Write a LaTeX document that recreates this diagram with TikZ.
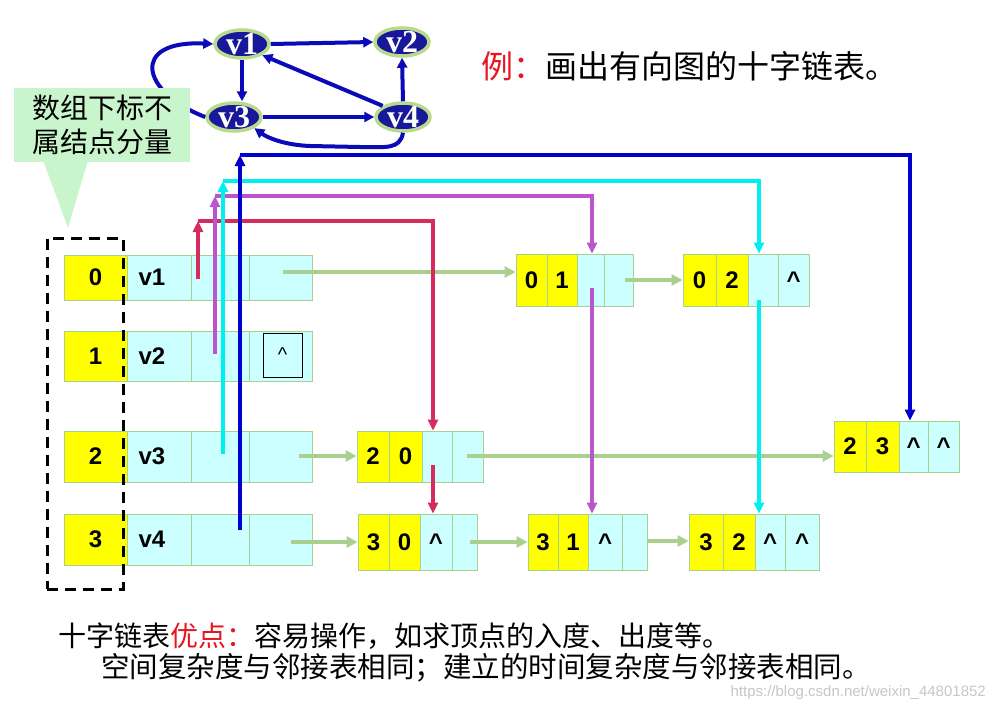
\documentclass[tikz,border=0pt]{standalone}
\usepackage{fontspec}
\setmainfont{Liberation Sans}
\newfontfamily\cjk{Noto Sans CJK SC}
\newfontfamily\serifb{Liberation Serif}
\usetikzlibrary{arrows.meta,shapes.geometric,calc}
\definecolor{cellyel}{HTML}{FFFF00}
\definecolor{cellcyan}{HTML}{CCFFFF}
\definecolor{cellline}{HTML}{A9D18E}
\definecolor{garrowc}{HTML}{A9D08E}
\definecolor{redc}{HTML}{D42C5C}
\definecolor{magc}{HTML}{BB55CC}
\definecolor{cyanc}{HTML}{00F0F0}
\definecolor{bluec}{HTML}{0000CC}
\definecolor{gedgec}{HTML}{0A0AB8}
\definecolor{gfill}{HTML}{18189A}
\definecolor{gring}{HTML}{B9D98C}
\definecolor{callc}{HTML}{C8F5CB}
\definecolor{titlered}{HTML}{E8141E}
\newcommand\mkcell[7]{\node[cellst,fill=#6,minimum width={(#3)-(#2)},minimum height={(#5)-(#4)}] (#1) at ({((#2)+(#3))/2},{((#4)+(#5))/2}) {#7};}
\newcommand\nil{\textasciicircum}
\newcommand\vl[1]{\hspace*{-14pt}#1}
\begin{document}
\begin{tikzpicture}[x=1pt,y=-1pt,
  cellst/.style={draw=cellline, line width=0.8pt, inner sep=0pt, font=\fontsize{24}{24}\selectfont\bfseries},
  garrow/.style={draw=garrowc, line width=4pt, -{Triangle[length=11pt,width=11pt]}, color=garrowc},
  conn/.style={line width=4pt, -{Triangle[length=11pt,width=10pt]}},
  gnode/.style={ellipse, fill=gfill, draw=gring, line width=3.5pt, minimum width=54pt, minimum height=28pt, inner sep=0pt},
  glabel/.style={text=white, inner sep=0pt, font=\serifb\bfseries\fontsize{32}{32}\selectfont},
  gedge/.style={draw=gedgec, color=gedgec, line width=4pt, -{Triangle[length=10pt,width=10pt]}},
]
\useasboundingbox (0,0) rectangle (995,712);
\fill[white] (0,0) rectangle (995,712);

% ---------- graph ----------
\node[gnode] (v1) at (242,44) {};
\node[gnode] (v2) at (402,42) {};
\node[gnode] (v3) at (234,117) {};
\node[gnode] (v4) at (403,117) {};
\node[glabel] (v1t) at (v1) {v1};
\node[glabel] (v2t) at (v2) {v2};
\node[glabel] (v3t) at (v3) {v3};
\node[glabel] (v4t) at (v4) {v4};
\draw[gedge] (v1.east) -- (v2.west);
\draw[gedge] (v1.south) -- (v1.south |- v3.north);
\draw[gedge] (v3.east) -- (v4.west);
\draw[gedge] (v4.north) -- (v2.south);
\draw[gedge] (v4.north west) -- (v1.south east);
\draw[gedge] (v3.west) .. controls (140,92) and (130,40) .. (v1.west);
\draw[gedge] (v4.south) .. controls (400,150) and (385,147) .. (360,147) -- (310,146) .. controls (285,145) and (268,138) .. (v3.south east);

% ---------- callout ----------
\fill[callc] (43,160) -- (88,160) -- (68,228) -- cycle;
\node[fill=callc, minimum width=176pt, minimum height=74pt, inner sep=0pt, align=center,
      font=\cjk\fontsize{28}{34}\selectfont] (callout) at (102,125) {数组下标不\\属结点分量};

% ---------- title ----------
\node[anchor=west, inner sep=0pt, font=\cjk\fontsize{32}{32}\selectfont] (title) at (481,66)
  {\textcolor{titlered}{例：}画出有向图的十字链表。};

% ---------- header rows ----------
\mkcell{i0}{64}{127}{255}{300}{cellyel}{0}
\mkcell{v1a}{127}{191}{255}{300}{cellcyan}{\vl{v1}}
\mkcell{v1b}{191}{249}{255}{300}{cellcyan}{}
\mkcell{v1c}{249}{312}{255}{300}{cellcyan}{}
\mkcell{i1}{64}{127}{331}{381}{cellyel}{1}
\mkcell{v2a}{127}{191}{331}{381}{cellcyan}{\vl{v2}}
\mkcell{v2b}{191}{249}{331}{381}{cellcyan}{}
\mkcell{v2c}{249}{312}{331}{381}{cellcyan}{}
\mkcell{i2}{64}{127}{431}{482}{cellyel}{2}
\mkcell{v3a}{127}{191}{431}{482}{cellcyan}{\vl{v3}}
\mkcell{v3b}{191}{249}{431}{482}{cellcyan}{}
\mkcell{v3c}{249}{312}{431}{482}{cellcyan}{}
\mkcell{i3}{64}{127}{514}{565}{cellyel}{3}
\mkcell{v4a}{127}{191}{514}{565}{cellcyan}{\vl{v4}}
\mkcell{v4b}{191}{249}{514}{565}{cellcyan}{}
\mkcell{v4c}{249}{312}{514}{565}{cellcyan}{}
\node[draw=black, line width=0.8pt, fill=cellcyan, minimum width=39pt, minimum height=44pt, inner sep=0pt,
      font=\fontsize{20}{20}\selectfont] (v2nil) at (282.5,355) {\nil};

% ---------- arc nodes ----------
\mkcell{n01a}{516}{547}{254}{306}{cellyel}{0}
\mkcell{n01b}{547}{577}{254}{306}{cellyel}{1}
\mkcell{n01c}{577}{604}{254}{306}{cellcyan}{}
\mkcell{n01d}{604}{633}{254}{306}{cellcyan}{}
\mkcell{n02a}{683}{716}{254}{306}{cellyel}{0}
\mkcell{n02b}{716}{748}{254}{306}{cellyel}{2}
\mkcell{n02c}{748}{778}{254}{306}{cellcyan}{}
\mkcell{n02d}{778}{809}{254}{306}{cellcyan}{\nil}
\mkcell{n20a}{357}{389}{431}{482}{cellyel}{2}
\mkcell{n20b}{389}{422}{431}{482}{cellyel}{0}
\mkcell{n20c}{422}{452}{431}{482}{cellcyan}{}
\mkcell{n20d}{452}{483}{431}{482}{cellcyan}{}
\mkcell{n23a}{834}{866}{421}{472}{cellyel}{2}
\mkcell{n23b}{866}{899}{421}{472}{cellyel}{3}
\mkcell{n23c}{899}{928}{421}{472}{cellcyan}{\nil}
\mkcell{n23d}{928}{959}{421}{472}{cellcyan}{\nil}
\mkcell{n30a}{358}{389}{514}{570}{cellyel}{3}
\mkcell{n30b}{389}{420}{514}{570}{cellyel}{0}
\mkcell{n30c}{420}{452}{514}{570}{cellcyan}{\nil}
\mkcell{n30d}{452}{477}{514}{570}{cellcyan}{}
\mkcell{n31a}{528}{558}{514}{570}{cellyel}{3}
\mkcell{n31b}{558}{588}{514}{570}{cellyel}{1}
\mkcell{n31c}{588}{622}{514}{570}{cellcyan}{\nil}
\mkcell{n31d}{622}{647}{514}{570}{cellcyan}{}
\mkcell{n32a}{689}{723}{514}{570}{cellyel}{3}
\mkcell{n32b}{723}{755}{514}{570}{cellyel}{2}
\mkcell{n32c}{755}{785}{514}{570}{cellcyan}{\nil}
\mkcell{n32d}{785}{819}{514}{570}{cellcyan}{\nil}

% ---------- green (row) links ----------
\coordinate (g1) at (283,272); \draw[garrow] (g1) -- (g1 -| n01a.west);
\coordinate (g2) at (625,280); \draw[garrow] (g2) -- (g2 -| n02a.west);
\coordinate (g3) at (299,456); \draw[garrow] (g3) -- (g3 -| n20a.west);
\coordinate (g4) at (467,456); \draw[garrow] (g4) -- (g4 -| n23a.west);
\coordinate (g5) at (291,542); \draw[garrow] (g5) -- (g5 -| n30a.west);
\coordinate (g6) at (470,542); \draw[garrow] (g6) -- (g6 -| n31a.west);
\coordinate (g7) at (648,541); \draw[garrow] (g7) -- (g7 -| n32a.west);

% ---------- column links ----------
\coordinate (rs) at (198,279); \coordinate (rt) at (198,221); \coordinate (rr) at (433,221);
\draw[conn, color=redc] (rs) -- (rt);
\draw[conn, color=redc] (rt) -- (rr) -- (rr |- n20c.north);
\coordinate (rs2) at (433,465); \draw[conn, color=redc] (rs2) -- (rs2 |- n30c.north);

\coordinate (ms) at (215,354); \coordinate (mt) at (215,196); \coordinate (mr) at (592,196);
\draw[conn, color=magc] (ms) -- (mt);
\draw[conn, color=magc] (mt) -- (mr) -- (mr |- n01c.north);
\coordinate (ms2) at (592,288); \draw[conn, color=magc] (ms2) -- (ms2 |- n31c.north);

\coordinate (cs) at (223,454); \coordinate (ct) at (223,181); \coordinate (cr) at (759,181);
\draw[conn, color=cyanc] (cs) -- (ct);
\draw[conn, color=cyanc] (ct) -- (cr) -- (cr |- n02c.north);
\coordinate (cs2) at (759,300); \draw[conn, color=cyanc] (cs2) -- (cs2 |- n32c.north);

\coordinate (bs) at (240,530); \coordinate (bt) at (240,155); \coordinate (br) at (910,155);
\draw[conn, color=bluec] (bs) -- (bt);
\draw[conn, color=bluec] (bt) -- (br) -- (br |- n23c.north);

% ---------- dashed array box ----------
\node[draw=black, line width=3pt, dash pattern=on 11pt off 7pt, minimum width=76pt, minimum height=351pt, inner sep=0pt] (arrbox) at (85,413.5) {};

% ---------- bottom text ----------
\node[anchor=west, inner sep=0pt, font=\cjk\fontsize{28}{28}\selectfont] (b1) at (58,636)
  {十字链表\textcolor{titlered}{优点：}容易操作，如求顶点的入度、出度等。};
\node[anchor=west, inner sep=0pt, font=\cjk\fontsize{28.5}{28.5}\selectfont] (b2) at (101,668)
  {空间复杂度与邻接表相同；建立的时间复杂度与邻接表相同。};
\node[anchor=east, inner sep=0pt, text=black!22, font=\fontsize{15}{15}\selectfont] (wm) at (986,693)
  {https://blog.csdn.net/weixin\_44801852};
\end{tikzpicture}
\end{document}
